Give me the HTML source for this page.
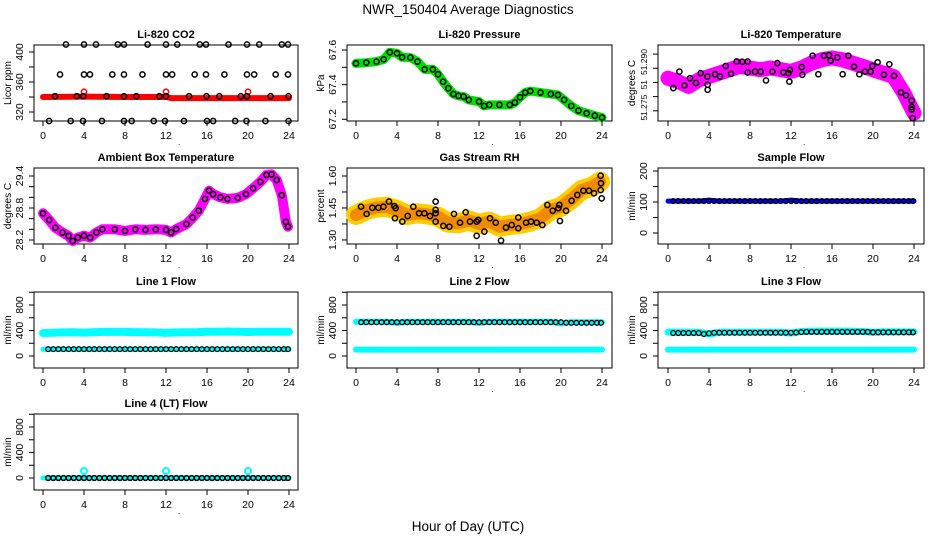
<!DOCTYPE html>
<html><head><meta charset="utf-8"><style>
html,body{margin:0;padding:0;background:#fff;}
svg{display:block;font-family:"Liberation Sans",Arial,sans-serif;}
</style></head><body>
<svg id="chart" width="936" height="540" viewBox="0 0 936 540" xmlns="http://www.w3.org/2000/svg">
<text x="468" y="14" text-anchor="middle" font-size="13.5">NWR_150404  Average Diagnostics</text>
<text x="468" y="531" text-anchor="middle" font-size="13.5">Hour of Day (UTC)</text>
</svg>
<script>
// ---------- data ----------
const xTicks = [0,4,8,12,16,20,24];
const hourly = [0,1,2,3,4,5,6,7,8,9,10,11,12,13,14,15,16,17,18,19,20,21,22,23,24];
const halfHours = [0.5,1,1.5,2,2.5,3,3.5,4,4.5,5,5.5,6,6.5,7,7.5,8,8.5,9,9.5,10,10.5,11,11.5,12,12.5,13,13.5,14,14.5,15,15.5,16,16.5,17,17.5,18,18.5,19,19.5,20,20.5,21,21.5,22,22.5,23,23.5,23.9];

// CO2
const co2RedHours = [0,4,8,12,12.5,16,20,24];
const co2RedVals = [340,340.5,340,340,338.5,338.5,338.5,338.5];
const co2OutHours = [4,12,20];
const co2OutVals = [347,347,347];
const co2BlackHours = [2.24,4.0,5.17,7.3,7.9,10.2,12.0,13.1,15.3,15.9,18.1,19.9,21.1,23.3,23.9,
 1.66,4.0,4.58,6.76,7.9,9.7,12.0,12.6,14.8,15.9,17.7,19.9,20.6,22.7,23.9,
 1.17,3.3,3.93,6.2,7.9,9.1,11.35,12.0,14.25,15.95,17.2,19.3,19.9,22.2,23.95,
 0.6,2.7,3.9,5.75,7.9,8.65,10.8,11.9,13.75,16.0,16.6,18.75,19.85,21.7,23.95];
const co2BlackVals = [410,410,410,410,410,410,410,410,410,410,410,410,410,410,410,
 370,370,370,370,370,370,370,370,370,370,370,370,370,370,370,
 341,341,341,341,341,341,341,341,341,341,341,341,341,341,341,
 308,308,308,308,308,308,308,308,308,308,308,308,308,308,308];

// Pressure
const presHours = [0,1,2,2.7,3.3,4,4.5,5.3,6,6.7,7.5,8,8.5,9,9.5,10,10.5,11,12,12.5,13,14,15,15.5,16,16.5,17,18,19,19.7,20.3,21,21.7,22.5,23.3,24];
const presVals = [67.523,67.527,67.533,67.546,67.587,67.581,67.558,67.556,67.533,67.488,67.488,67.46,67.417,67.379,67.346,67.335,67.331,67.312,67.302,67.277,67.283,67.283,67.283,67.296,67.327,67.354,67.363,67.354,67.346,67.340,67.312,67.277,67.25,67.235,67.221,67.21];

// Li-820 temperature
const tempBandHours = [0,1,2,3,4,5,6,7,8,9,10,11,12,13,14,15,16,17,18,19,20,21,22,22.5,23,23.5,24];
const tempBandVals = [51.2865,51.2853,51.2836,51.2859,51.2871,51.2883,51.2895,51.2907,51.2901,51.2895,51.2901,51.2895,51.2889,51.2901,51.2918,51.293,51.2936,51.293,51.2918,51.2907,51.2895,51.2883,51.2871,51.2842,51.2813,51.2777,51.2742];
const tempBlackHours = [0.52,1.11,1.59,2.15,2.73,3.19,3.84,3.87,3.87,4.59,5.07,5.63,6.15,6.70,7.25,7.77,7.77,8.49,9.04,9.56,10.18,10.67,11.25,11.74,11.9,11.84,13.04,13.1,14.11,14.67,15.22,15.71,15.87,16.52,17.04,17.59,18.15,18.67,19.22,19.77,19.93,20.45,21.07,21.59,22.05,22.73,23.22,23.77,23.77,23.77,23.87];
const tempBlackVals = [51.2830,51.2888,51.2839,51.2865,51.2848,51.2883,51.2871,51.2842,51.2824,51.2879,51.2871,51.2908,51.2880,51.2924,51.2923,51.2924,51.2885,51.2888,51.2888,51.2857,51.2888,51.2918,51.2886,51.2883,51.2894,51.2853,51.2904,51.2877,51.2944,51.2879,51.2944,51.2946,51.2927,51.2938,51.2879,51.2944,51.2906,51.2879,51.2888,51.2888,51.2908,51.2921,51.2877,51.2914,51.2873,51.2815,51.2805,51.2786,51.2763,51.2754,51.2724];
const tempTicks = [51.275,51.28,51.285,51.29,51.295];
const tempLabelVals = [51.2761,51.2842,51.2922];
const tempLabelText = ["51.275","51","51.290"];

// Ambient box temperature
const ambHours = [0,0.6,1.2,1.9,2.5,2.9,3.4,4,4.6,5.2,5.8,7,8,9,10,11,12,12.5,13,14,14.6,15.2,15.8,16.2,16.6,17.3,18,19,19.8,20.5,21.2,21.8,22.3,22.8,23.3,23.7,23.9];
const ambVals = [28.70,28.575,28.43,28.34,28.275,28.18,28.245,28.28,28.245,28.34,28.40,28.40,28.37,28.40,28.39,28.40,28.39,28.34,28.405,28.50,28.62,28.75,28.97,29.125,29.06,29.00,28.97,28.99,29.06,29.17,29.29,29.42,29.43,29.325,29.04,28.54,28.45];

// Gas stream RH
const rhBandHours = [0,1,2,3,4,5,6,7,8,9,10,11,12,13,14,15,16,17,18,19,20,21,22,23,23.8];
const rhBandVals = [1.417,1.44,1.452,1.455,1.44,1.417,1.425,1.42,1.409,1.381,1.378,1.391,1.375,1.386,1.362,1.37,1.375,1.386,1.402,1.44,1.455,1.491,1.534,1.55,1.573];
const rhBlackHours = [0.49,1.04,1.59,2.18,2.67,3.22,3.74,3.87,3.80,4.52,5.04,5.59,6.15,6.67,7.22,7.77,7.77,7.77,7.77,8.52,9.11,9.56,10.15,10.70,11.12,11.77,11.77,11.93,12.52,13.07,13.63,14.15,14.63,15.19,15.83,15.83,16.59,17.07,17.63,18.18,18.67,19.19,19.74,19.84,19.9,20.49,21.04,21.59,22.18,22.73,23.22,23.87,23.9,23.87,23.97];
const rhBlackVals = [1.456,1.422,1.451,1.451,1.456,1.48,1.459,1.449,1.402,1.386,1.4125,1.456,1.425,1.425,1.4125,1.425,1.441,1.48,1.386,1.366,1.362,1.422,1.381,1.43,1.386,1.386,1.319,1.394,1.339,1.402,1.381,1.297,1.358,1.370,1.405,1.355,1.381,1.386,1.381,1.370,1.464,1.437,1.449,1.464,1.389,1.437,1.484,1.511,1.531,1.531,1.519,1.534,1.566,1.601,1.495];

// Sample flow
const sampleBand = [103,103,103,103,106,103,103,103,103,103,103,103,106,103,103,103,103,103,103,103,103,103,103,103,103];
const sampleBlack = [103,103,103,103,103,103,103,103,103,103,103,103,103,103,103,103,103,103,103,103,103,103,103,103,103,103,103,103,103,103,103,103,103,103,103,103,103,103,103,103,103,103,103,103,103,103,103,103];

// Line 1 flow
const line1Upper = [360,365,370,372,368,375,378,378,378,375,372,370,362,370,372,372,380,382,385,380,376,380,382,382,382];
const line1Lower = [105,105,105,105,105,105,105,105,105,105,105,105,105,105,105,105,105,105,105,105,105,105,105,105,105];
const line1Black = [108,108,108,108,108,108,108,108,108,108,108,108,108,108,108,108,108,108,108,108,108,108,108,108,108,108,108,108,108,108,108,108,108,108,108,108,108,108,108,108,108,108,108,108,108,108,108,108];

// Line 2 flow
const line2Upper = [538,538,538,538,520,538,538,538,538,538,538,538,520,538,538,538,538,538,538,538,510,530,528,528,528];
const line2Lower = [100,100,100,100,100,100,100,100,100,100,100,100,100,100,100,100,100,100,100,100,100,100,100,100,100];
const line2Black = [530,530,530,530,530,530,530,530,530,530,530,530,530,530,530,530,530,530,530,530,530,530,530,530,530,530,530,530,530,530,530,530,530,530,530,530,530,530,530,530,522,520,520,520,520,520,520,520];

// Line 3 flow
const line3Upper = [375,372,372,372,345,372,372,372,372,372,372,372,360,385,390,390,390,390,388,385,370,380,378,378,378];
const line3Lower = [100,100,100,100,100,100,100,100,100,100,100,100,100,100,100,100,100,100,100,100,100,100,100,100,100];
const line3Black = [360,360,360,360,360,360,345,355,365,365,365,365,365,365,365,365,365,365,365,365,365,365,365,365,368,375,378,378,378,378,378,378,378,378,378,378,378,378,378,372,372,372,372,372,372,372,372,372];

// Line 4 (LT) flow
const line4Cyan = [0,0,0,0,0,0,0,0,0,0,0,0,0,0,0,0,0,0,0,0,0,0,0,0,0];
const line4OutHours = [4,12,20];
const line4OutVals = [110,110,110];
const line4Black = [0,0,0,0,0,0,0,0,0,0,0,0,0,0,0,0,0,0,0,0,0,0,0,0,0,0,0,0,0,0,0,0,0,0,0,0,0,0,0,0,0,0,0,0,0,0,0,0];

const flowTicks = [0,200,400,600,800,1000];
const flowLabels = ["0","","400","","800",""];

// ---------- drawing ----------
const NS = "http://www.w3.org/2000/svg";
const svg = document.getElementById("chart");
const colLeft = [34,347,658], colRight = [298,612,924], colX0 = [43,356,668];
const rowTop = [45,168,292,414], H = 76;
const XS = 10.25;

function mk(tag, parent){ const e = document.createElementNS(NS, tag); parent.appendChild(e); return e; }

function panel(col,row,name,title,ylab,ymin,ymax,ticks,labels,labelVals){
  const g = mk("g", svg);
  
  
  const L = colLeft[col], R = colRight[col], T = rowTop[row], B = T + H;
  const x = h => colX0[col] + h * XS;
  const y = v => T + (ymax - v) / (ymax - ymin) * H;
  const t = mk("text", g);
  
  
  t.setAttribute("x", (L+R)/2); t.setAttribute("y", T-7);
  t.setAttribute("text-anchor","middle"); t.setAttribute("font-size","11"); t.setAttribute("font-weight","bold");
  t.textContent = title;
  const yl = mk("text", g);
  
  
  yl.setAttribute("transform","translate("+(L-23)+","+((T+B)/2)+") rotate(-90)");
  yl.setAttribute("text-anchor","middle"); yl.setAttribute("font-size","10");
  yl.textContent = ylab;
  const box = mk("rect", g);
  
  
  box.setAttribute("x",L); box.setAttribute("y",T); box.setAttribute("width",R-L); box.setAttribute("height",H);
  box.setAttribute("fill","none"); box.setAttribute("stroke","#000"); box.setAttribute("stroke-width","1");
  const dots = mk("g", g);
  
  
  xTicks.forEach(h => {
    const l = mk("line", g);
    
    
    l.setAttribute("x1",x(h)); l.setAttribute("x2",x(h)); l.setAttribute("y1",B); l.setAttribute("y2",B+5);
    l.setAttribute("stroke","#000");
    const tx = mk("text", g);
    
    
    tx.setAttribute("x",x(h)); tx.setAttribute("y",B+18); tx.setAttribute("text-anchor","middle"); tx.setAttribute("font-size","10.5");
    tx.textContent = h;
  });
  const dot = mk("text", g);
  
  
  dot.setAttribute("x",(L+R)/2+12); dot.setAttribute("y",B+24); dot.setAttribute("font-size","8"); dot.textContent = ".";
  ticks.forEach((v,i) => {
    const l = mk("line", g);
    
    
    l.setAttribute("x1",L-5); l.setAttribute("x2",L); l.setAttribute("y1",y(v)); l.setAttribute("y2",y(v));
    l.setAttribute("stroke","#000");
    if (!labelVals && labels[i]) {
      const tx = mk("text", g);
      
      
      tx.setAttribute("transform","translate("+(L-11)+","+y(v)+") rotate(-90)");
      tx.setAttribute("text-anchor","middle"); tx.setAttribute("font-size","10.5");
      tx.textContent = labels[i];
    }
  });
  if (labelVals) labelVals.forEach((v,i) => {
    const tx = mk("text", g);
    
    
    tx.setAttribute("transform","translate("+(L-11)+","+y(v)+") rotate(-90)");
    tx.setAttribute("text-anchor","middle"); tx.setAttribute("font-size","8.5");
    tx.textContent = labels[i];
  });
  return {g:dots, x, y};
}

function band(p, hours, vals, color, w, name){
  const path = mk("path", p.g);
  
  
  path.setAttribute("d", hours.map((h,i)=>(i?"L":"M")+p.x(h).toFixed(1)+","+p.y(vals[i]).toFixed(1)).join(""));
  path.setAttribute("fill","none"); path.setAttribute("stroke",color); path.setAttribute("stroke-width",w);
  path.setAttribute("stroke-linecap","round"); path.setAttribute("stroke-linejoin","round");
}
function circles(p, hours, vals, color, name, r, sw){
  hours.forEach((h,i) => {
    const c = mk("circle", p.g);
    
    
    c.setAttribute("cx",p.x(h)); c.setAttribute("cy",p.y(vals[i])); c.setAttribute("r", r||2.6);
    c.setAttribute("fill","none"); c.setAttribute("stroke",color); c.setAttribute("stroke-width", sw||1.5);
  });
}

let p = panel(0,0,"co2","Li-820 CO2","Licor ppm",308,409.3,[320,340,360,380,400],["320","","360","","400"]);
band(p, co2RedHours, co2RedVals, "#ff0000", 6, "co2-red-band");
circles(p, co2OutHours, co2OutVals, "#ff0000", "co2-red-outlier");
circles(p, co2BlackHours, co2BlackVals, "#000", "co2-black-point");

p = panel(1,0,"pressure","Li-820 Pressure","kPa",67.190,67.629,[67.2,67.3,67.4,67.5,67.6],["67.2","","67.4","","67.6"]);
band(p, presHours, presVals, "#00dd00", 9, "pressure-green-band");
circles(p, presHours, presVals, "#000", "pressure-black-point");

p = panel(2,0,"li820-temp","Li-820 Temperature","degrees C",51.2714,51.2982,tempTicks,tempLabelText,tempLabelVals);
band(p, tempBandHours, tempBandVals, "#ff00ff", 15, "temp-magenta-band");
circles(p, tempBlackHours, tempBlackVals, "#000", "temp-black-point");

p = panel(0,1,"ambient-temp","Ambient Box Temperature","degrees C",28.125,29.55,[28.2,28.4,28.6,28.8,29.0,29.2,29.4],["28.2","","","28.8","","","29.4"]);
band(p, ambHours, ambVals, "#ff00ff", 10, "ambient-magenta-band");
circles(p, ambHours, ambVals, "#000", "ambient-black-point");

p = panel(1,1,"rh","Gas Stream RH","percent",1.281,1.6375,[1.30,1.375,1.45,1.525,1.60],["1.30","","1.45","","1.60"]);
band(p, rhBandHours, rhBandVals, "#ffcc00", 20, "rh-yellow-band");
band(p, rhBandHours, rhBandVals, "#f08a00", 12, "rh-orange-band");
circles(p, rhBlackHours, rhBlackVals, "#000", "rh-black-point");

p = panel(2,1,"sample-flow","Sample Flow","ml/min",-35.5,209.7,[0,50,100,150,200],["0","","100","","200"]);
band(p, hourly, sampleBand, "#0000ff", 5, "sample-blue-band");
circles(p, halfHours, sampleBlack, "#000", "sample-black-point", 2.4, 1.3);

p = panel(0,2,"line1-flow","Line 1 Flow","ml/min",-188,1004,flowTicks,flowLabels);
band(p, hourly, line1Upper, "#00ffff", 8, "line1-cyan-upper");
band(p, hourly, line1Lower, "#00ffff", 5, "line1-cyan-lower");
circles(p, halfHours, line1Black, "#000", "line1-black-point", 2.4, 1.3);

p = panel(1,2,"line2-flow","Line 2 Flow","ml/min",-188,1004,flowTicks,flowLabels);
band(p, hourly, line2Upper, "#00ffff", 6, "line2-cyan-upper");
band(p, hourly, line2Lower, "#00ffff", 6, "line2-cyan-lower");
circles(p, halfHours, line2Black, "#000", "line2-black-point", 2.4, 1.3);

p = panel(2,2,"line3-flow","Line 3 Flow","ml/min",-188,1004,flowTicks,flowLabels);
band(p, hourly, line3Upper, "#00ffff", 7, "line3-cyan-upper");
band(p, hourly, line3Lower, "#00ffff", 6, "line3-cyan-lower");
circles(p, halfHours, line3Black, "#000", "line3-black-point", 2.4, 1.3);

p = panel(0,3,"line4-flow","Line 4 (LT) Flow","ml/min",-188,1004,flowTicks,flowLabels);
band(p, hourly, line4Cyan, "#00ffff", 5, "line4-cyan-band");
circles(p, line4OutHours, line4OutVals, "#00ffff", "line4-cyan-outlier", 3, 2);
circles(p, halfHours, line4Black, "#000", "line4-black-point", 2.4, 1.5);
</script>
</body></html>
